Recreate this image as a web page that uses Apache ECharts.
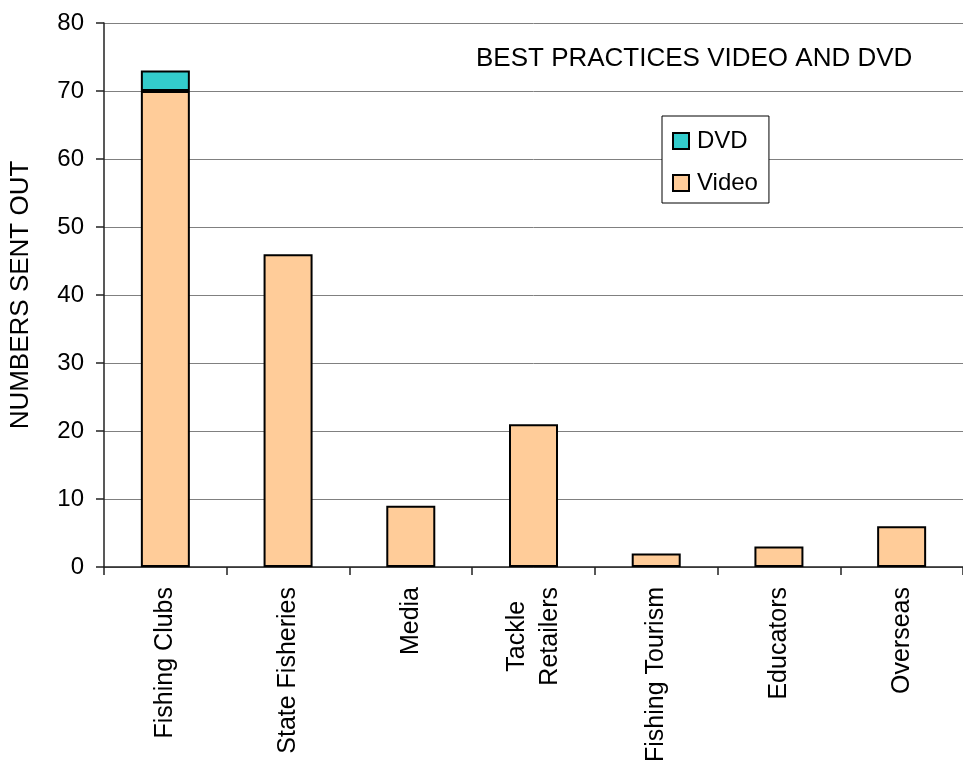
<!DOCTYPE html>
<html>
<head>
<meta charset="utf-8">
<script src="https://cdn.jsdelivr.net/npm/echarts@6/dist/echarts.min.js"></script>
<style>
  html, body { margin: 0; padding: 0; background: #fff; overflow: hidden; }
  #chart { width: 963px; height: 772px; }
</style>
</head>
<body>
<div id="chart"></div>
<script>
// Distribution of the best-practices material by recipient group
const categories = ['Fishing Clubs', 'State Fisheries', 'Media', 'Tackle\nRetailers', 'Fishing Tourism', 'Educators', 'Overseas'];
const videoCounts = [70, 46, 9, 21, 2, 3, 6];
const dvdCounts = [3, 0, 0, 0, 0, 0, 0];
const yTicks = { min: 0, max: 80, interval: 10 };

const font = 'Liberation Sans, Arial, sans-serif';
const chart = echarts.init(document.getElementById('chart'));

chart.setOption({
  animation: false,
  backgroundColor: '#ffffff',
  textStyle: { fontFamily: font, color: '#000' },
  title: {
    text: 'BEST PRACTICES VIDEO AND DVD',
    left: 476,
    top: 46,
    padding: 0,
    textStyle: { fontFamily: font, fontSize: 26, fontWeight: 'normal', color: '#000', lineHeight: 26 }
  },
  legend: {
    data: ['DVD', 'Video'],
    orient: 'vertical',
    left: 662,
    top: 116,
    padding: [13, 11, 8, 10],
    itemGap: 18,
    itemWidth: 16,
    itemHeight: 16,
    icon: 'rect',
    borderColor: '#000',
    borderWidth: 1,
    backgroundColor: '#fff',
    textStyle: { fontFamily: font, fontSize: 24, color: '#000', lineHeight: 24, padding: [0, 0, 0, 3] }
  },
  grid: { left: 101, width: 873, top: 23, bottom: 205, containLabel: false },
  xAxis: {
    type: 'category',
    data: categories,
    axisLine: { lineStyle: { color: '#222', width: 1.5 } },
    axisTick: { show: true, length: 8, lineStyle: { color: '#222', width: 1.5 } },
    axisLabel: {
      rotate: 90,
      margin: 20,
      align: 'right',
      verticalAlign: 'middle',
      // each line of a wrapped category is centred within the label block
      formatter: v => v.split('\n').map(s => '{c|' + s + '}').join('\n'),
      rich: {
        c: { fontFamily: font, fontSize: 25, color: '#000', lineHeight: 33, align: 'center' }
      }
    }
  },
  yAxis: {
    type: 'value',
    min: yTicks.min,
    max: yTicks.max,
    interval: yTicks.interval,
    name: 'NUMBERS SENT OUT',
    nameLocation: 'middle',
    nameGap: 70,
    nameTextStyle: { fontFamily: font, fontSize: 26, color: '#000' },
    axisLine: { show: true, lineStyle: { color: '#222', width: 1.5 } },
    axisTick: { show: true, length: 8, lineStyle: { color: '#222', width: 1.5 } },
    axisLabel: { fontFamily: font, fontSize: 24, color: '#000', margin: 20 },
    splitLine: { show: true, lineStyle: { color: '#808080', width: 1 } }
  },
  series: [
    {
      name: 'Video',
      type: 'bar',
      stack: 'total',
      data: videoCounts,
      barWidth: 49,
      itemStyle: { color: '#FFCC99', borderColor: '#000', borderWidth: 2 }
    },
    {
      name: 'DVD',
      type: 'bar',
      stack: 'total',
      data: dvdCounts.map(v => (v > 0 ? v : null)),
      barWidth: 49,
      itemStyle: { color: '#33CCCC', borderColor: '#000', borderWidth: 2 }
    }
  ]
});
</script>
</body>
</html>
